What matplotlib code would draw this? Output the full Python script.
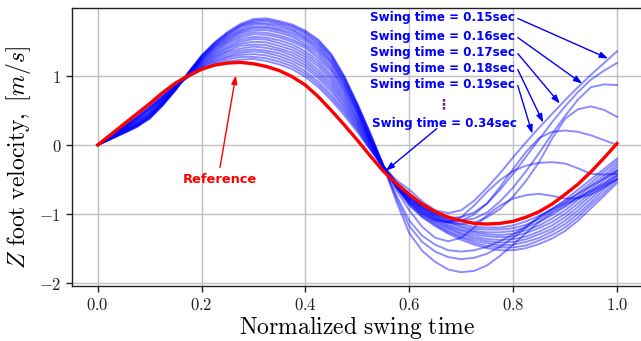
import matplotlib
matplotlib.use('Agg')
import matplotlib.pyplot as plt

# ---------------- data ----------------
t_norm = [0.000, 0.025, 0.050, 0.075, 0.100, 0.125, 0.150, 0.175, 0.200, 0.225,
          0.250, 0.275, 0.300, 0.325, 0.350, 0.375, 0.400, 0.425, 0.450, 0.475,
          0.500, 0.525, 0.550, 0.575, 0.600, 0.625, 0.650, 0.675, 0.700, 0.725,
          0.750, 0.775, 0.800, 0.825, 0.850, 0.875, 0.900, 0.925, 0.950, 0.975, 1.000]

reference = [0, .15, .30, .45, .60, .76, .90, 1.01, 1.10, 1.16, 1.19, 1.20, 1.18, 1.14, 1.08, .99,
             .87, .70, .50, .29, .07, -.16, -.38, -.56, -.72, -.86, -.97, -1.05, -1.10, -1.14,
             -1.15, -1.14, -1.11, -1.05, -.97, -.86, -.72, -.57, -.39, -.19, .02]

v_015 = [0, .10, .21, .32, .45, .63, .83, 1.03, 1.22, 1.36, 1.48, 1.56, 1.61, 1.60, 1.56, 1.50, 1.41, 1.26, 1.07, .78, .45, .05, -.31, -.51, -.65, -.82, -.95, -.99, -.95, -.81, -.62, -.41, -.18, .04, .25, .45, .65, .84, 1.02, 1.19, 1.36]
v_016 = [0, .10, .20, .31, .44, .62, .82, 1.03, 1.23, 1.38, 1.50, 1.59, 1.64, 1.63, 1.59, 1.53, 1.44, 1.30, 1.10, .81, .47, .07, -.31, -.54, -.70, -.87, -1.00, -1.06, -1.05, -.98, -.85, -.65, -.42, -.17, .08, .33, .56, .77, .95, 1.08, 1.19]
v_017 = [0, .10, .20, .30, .43, .61, .82, 1.04, 1.24, 1.40, 1.52, 1.62, 1.67, 1.67, 1.63, 1.57, 1.47, 1.34, 1.13, .84, .49, .08, -.31, -.55, -.72, -.89, -1.02, -1.09, -1.10, -1.07, -.98, -.82, -.62, -.38, -.12, .16, .42, .66, .84, .88, .87]
v_018 = [0, .09, .19, .29, .42, .61, .82, 1.04, 1.25, 1.42, 1.54, 1.64, 1.70, 1.70, 1.66, 1.60, 1.51, 1.37, 1.17, .87, .51, .09, -.31, -.56, -.75, -.92, -1.05, -1.13, -1.15, -1.13, -1.05, -.93, -.75, -.52, -.25, .09, .38, .52, .56, .51, .41]
v_019 = [0, .09, .19, .29, .41, .60, .81, 1.04, 1.26, 1.43, 1.56, 1.66, 1.72, 1.72, 1.68, 1.63, 1.54, 1.40, 1.20, .89, .52, .09, -.31, -.58, -.78, -.96, -1.08, -1.12, -1.10, -1.01, -.85, -.61, -.35, -.10, .10, .19, .21, .19, .14, .07, .00]
v_020 = [0, .09, .18, .28, .41, .59, .81, 1.05, 1.27, 1.44, 1.58, 1.68, 1.75, 1.75, 1.71, 1.66, 1.56, 1.43, 1.22, .91, .54, .11, -.30, -.60, -.82, -1.00, -1.10, -1.12, -1.05, -.88, -.68, -.51, -.38, -.30, -.26, -.25, -.27, -.34, -.42, -.43, -.42]
v_021 = [0, .09, .18, .28, .40, .59, .81, 1.05, 1.28, 1.46, 1.60, 1.71, 1.77, 1.77, 1.74, 1.68, 1.59, 1.46, 1.25, .94, .56, .13, -.30, -.65, -.95, -1.19, -1.35, -1.40, -1.35, -1.20, -1.02, -.88, -.78, -.73, -.71, -.74, -.78, -.77, -.72, -.62, -.50]
v_022 = [0, .09, .18, .27, .39, .58, .80, 1.05, 1.29, 1.47, 1.61, 1.73, 1.79, 1.80, 1.76, 1.71, 1.62, 1.48, 1.28, .96, .58, .15, -.30, -.73, -1.10, -1.32, -1.45, -1.53, -1.55, -1.53, -1.48, -1.40, -1.30, -1.18, -1.05, -.93, -.82, -.71, -.60, -.49, -.38]
v_023 = [0, .09, .17, .26, .39, .58, .80, 1.05, 1.29, 1.48, 1.63, 1.74, 1.81, 1.82, 1.78, 1.73, 1.64, 1.51, 1.30, .98, .59, .16, -.30, -.77, -1.18, -1.41, -1.55, -1.63, -1.66, -1.64, -1.58, -1.48, -1.35, -1.20, -1.05, -.94, -.85, -.76, -.66, -.56, -.45]
v_024 = [0, .08, .17, .26, .38, .57, .80, 1.06, 1.30, 1.49, 1.64, 1.76, 1.83, 1.84, 1.80, 1.75, 1.66, 1.53, 1.32, 1.00, .60, .17, -.30, -.82, -1.28, -1.54, -1.70, -1.81, -1.85, -1.83, -1.75, -1.61, -1.45, -1.28, -1.12, -.99, -.88, -.78, -.68, -.59, -.50]
v_025 = [0, .11, .21, .33, .46, .64, .83, 1.03, 1.21, 1.34, 1.45, 1.53, 1.57, 1.56, 1.52, 1.46, 1.36, 1.22, 1.02, .75, .42, .05, -.31, -.62, -.88, -1.05, -1.18, -1.29, -1.38, -1.45, -1.50, -1.53, -1.53, -1.50, -1.44, -1.36, -1.25, -1.10, -.92, -.74, -.55]
v_026 = [0, .11, .22, .34, .47, .65, .83, 1.02, 1.19, 1.32, 1.42, 1.50, 1.54, 1.53, 1.48, 1.42, 1.32, 1.18, .98, .71, .39, .04, -.31, -.61, -.86, -1.04, -1.16, -1.27, -1.35, -1.42, -1.47, -1.49, -1.49, -1.46, -1.39, -1.31, -1.20, -1.05, -.87, -.70, -.51]
v_027 = [0, .11, .23, .35, .48, .66, .84, 1.02, 1.18, 1.30, 1.40, 1.47, 1.50, 1.49, 1.44, 1.38, 1.28, 1.14, .94, .68, .37, .02, -.32, -.61, -.85, -1.02, -1.14, -1.25, -1.33, -1.39, -1.43, -1.46, -1.45, -1.41, -1.35, -1.26, -1.15, -1.00, -.83, -.65, -.47]
v_028 = [0, .11, .23, .36, .50, .67, .84, 1.01, 1.17, 1.28, 1.37, 1.44, 1.46, 1.45, 1.40, 1.34, 1.24, 1.09, .90, .64, .34, .01, -.32, -.60, -.83, -1.00, -1.12, -1.22, -1.30, -1.36, -1.40, -1.42, -1.41, -1.37, -1.30, -1.22, -1.10, -.95, -.78, -.61, -.43]
v_029 = [0, .12, .24, .37, .51, .68, .85, 1.01, 1.15, 1.26, 1.35, 1.40, 1.43, 1.41, 1.37, 1.30, 1.20, 1.05, .86, .61, .32, .00, -.32, -.59, -.82, -.98, -1.10, -1.20, -1.28, -1.33, -1.37, -1.38, -1.37, -1.33, -1.26, -1.17, -1.05, -.90, -.73, -.57, -.39]
v_030 = [0, .12, .24, .38, .52, .68, .85, 1.01, 1.14, 1.24, 1.32, 1.37, 1.39, 1.37, 1.33, 1.26, 1.16, 1.01, .82, .57, .29, -.02, -.32, -.58, -.80, -.96, -1.08, -1.18, -1.25, -1.30, -1.33, -1.34, -1.33, -1.28, -1.21, -1.12, -1.00, -.85, -.69, -.52, -.36]
v_031 = [0, .12, .25, .39, .53, .69, .86, 1.00, 1.13, 1.22, 1.29, 1.34, 1.36, 1.34, 1.29, 1.22, 1.12, .97, .78, .54, .27, -.03, -.32, -.58, -.79, -.94, -1.06, -1.16, -1.23, -1.27, -1.30, -1.31, -1.29, -1.24, -1.17, -1.07, -.95, -.80, -.64, -.48, -.32]
v_032 = [0, .13, .26, .39, .54, .70, .86, 1.00, 1.11, 1.20, 1.27, 1.31, 1.32, 1.30, 1.25, 1.18, 1.07, .92, .73, .50, .24, -.05, -.33, -.57, -.77, -.92, -1.04, -1.13, -1.20, -1.25, -1.27, -1.27, -1.25, -1.20, -1.12, -1.02, -.90, -.75, -.59, -.44, -.28]
v_033 = [0, .13, .26, .40, .55, .71, .86, .99, 1.10, 1.18, 1.24, 1.28, 1.28, 1.26, 1.21, 1.14, 1.03, .88, .69, .47, .22, -.06, -.33, -.56, -.76, -.91, -1.02, -1.11, -1.18, -1.22, -1.23, -1.23, -1.21, -1.16, -1.08, -.97, -.85, -.70, -.55, -.39, -.24]
v_034 = [0, .13, .27, .41, .56, .72, .87, .99, 1.09, 1.16, 1.21, 1.24, 1.25, 1.22, 1.17, 1.10, .99, .84, .65, .43, .19, -.07, -.33, -.55, -.74, -.89, -1.00, -1.09, -1.15, -1.19, -1.20, -1.20, -1.17, -1.11, -1.03, -.93, -.80, -.65, -.50, -.35, -.20]

swing_curves = [v_015, v_016, v_017, v_018, v_019, v_020, v_021, v_022, v_023, v_024,
                v_025, v_026, v_027, v_028, v_029, v_030, v_031, v_032, v_033, v_034]

xticks = [0.0, 0.2, 0.4, 0.6, 0.8, 1.0]
xtick_labels = ['0.0', '0.2', '0.4', '0.6', '0.8', '1.0']
yticks = [-2, -1, 0, 1]
ytick_labels = ['-2', '-1', '0', '1']

label_texts = ['Swing time = 0.15sec', 'Swing time = 0.16sec', 'Swing time = 0.17sec',
               'Swing time = 0.18sec', 'Swing time = 0.19sec']
label_y = [1.853, 1.576, 1.343, 1.110, 0.877]
arrow_tips = [(0.983, 1.256), (0.933, 0.892), (0.890, 0.601), (0.858, 0.325), (0.837, 0.164)]

# ---------------- drawing ----------------
plt.rcParams['mathtext.fontset'] = 'cm'
fig = plt.figure(figsize=(6.41, 3.41), dpi=100)
ax = fig.add_axes([0.1119, 0.1613, 0.8911, 0.8152])

for c in swing_curves:
    ax.plot(t_norm, c, color='blue', lw=1.4, alpha=0.45, solid_joinstyle='round')
ax.plot(t_norm, reference, color='red', lw=2.4, solid_joinstyle='round')

ax.set_xlim(-0.05, 1.05)
ax.set_ylim(-2.05, 1.99)
ax.set_xticks(xticks)
ax.set_xticklabels([f'${s}$' for s in xtick_labels], fontsize=12)
ax.set_yticks(yticks)
ax.set_yticklabels([f'${s}$' for s in ytick_labels], fontsize=12)
ax.tick_params(direction='out', length=4, width=1, colors='#222222')
ax.grid(True, color='#c0c0c0', lw=1.0)
ax.set_axisbelow(True)
for s in ax.spines.values():
    s.set_linewidth(1.0)
    s.set_color('#222222')

ax.set_xlabel(r'$\mathrm{Normalized\ swing\ time}$', fontsize=17, labelpad=0)
ax.set_ylabel(r'$Z\ \mathrm{foot\ velocity,}\ [m/s]$', fontsize=17)
ax.yaxis.set_label_coords(-0.068, 0.464)

for txt, y in zip(label_texts, label_y):
    ax.text(0.524, y, txt, color='blue', fontsize=8.6, fontweight='bold',
            family='DejaVu Sans', ha='left', va='center')
ax.text(0.666, 0.585, '\u22ee', color='#5a1a9a', fontsize=10, fontweight='bold',
        family='DejaVu Sans', ha='center', va='center')
ax.text(0.528, 0.309, 'Swing time = 0.34sec', color='blue', fontsize=8.6,
        fontweight='bold', family='DejaVu Sans', ha='left', va='center')

for (xt, yt), y in zip(arrow_tips, label_y):
    ax.annotate('', xy=(xt, yt), xytext=(0.809, y - 0.015),
                arrowprops=dict(arrowstyle='-|>,head_length=0.5,head_width=0.18',
                                color='blue', lw=1.0, shrinkA=0, shrinkB=0))
ax.annotate('', xy=(0.555, -0.374), xytext=(0.653, 0.237),
            arrowprops=dict(arrowstyle='-|>,head_length=0.5,head_width=0.18',
                            color='blue', lw=1.0, shrinkA=0, shrinkB=0))

ax.text(0.236, -0.495, 'Reference', color='red', fontsize=9.4, fontweight='bold',
        family='DejaVu Sans', ha='center', va='center')
ax.annotate('', xy=(0.266, 1.009), xytext=(0.2355, -0.326),
            arrowprops=dict(arrowstyle='-|>,head_length=0.5,head_width=0.18',
                            color='red', lw=1.0, shrinkA=0, shrinkB=0))

fig.savefig('out.png', dpi=100)
